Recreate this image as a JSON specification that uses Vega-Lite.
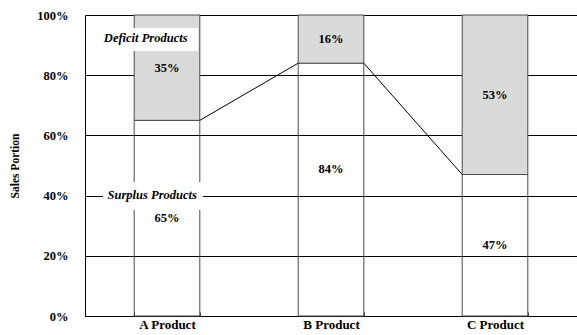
{
  "$schema": "https://vega.github.io/schema/vega-lite/v6.json",
  "width": 492,
  "height": 301,
  "autosize": "none",
  "padding": {"left": 85, "top": 15, "right": 0, "bottom": 19},
  "background": "white",
  "config": {"view": {"stroke": null}, "font": "Liberation Serif"},
  "resolve": {"scale": {"x": "independent"}},
  "layer": [
    {
      "data": {"values": [
        {"product": "A Product", "part": "Surplus", "value": 65, "ord": 1},
        {"product": "A Product", "part": "Deficit", "value": 35, "ord": 2},
        {"product": "B Product", "part": "Surplus", "value": 84, "ord": 1},
        {"product": "B Product", "part": "Deficit", "value": 16, "ord": 2},
        {"product": "C Product", "part": "Surplus", "value": 47, "ord": 1},
        {"product": "C Product", "part": "Deficit", "value": 53, "ord": 2}
      ]},
      "layer": [
        {
          "mark": {"type": "bar", "stroke": "#4a4a4a", "strokeWidth": 1},
          "encoding": {
            "x": {
              "field": "product", "type": "nominal",
              "scale": {"paddingInner": 0.6, "paddingOuter": 0.3},
              "axis": {
                "title": null, "labelAngle": 0, "labelFont": "Liberation Serif",
                "labelFontWeight": "bold", "labelFontSize": 13, "labelColor": "black",
                "labelPadding": 6, "tickBand": "extent", "tickSize": -4, "tickColor": "#333",
                "domainColor": "black", "grid": false
              }
            },
            "y": {
              "field": "value", "type": "quantitative", "stack": "zero",
              "scale": {"domain": [0, 100], "nice": false},
              "axis": {
                "title": "Sales Portion", "titleFont": "Liberation Serif", "titleFontWeight": "bold",
                "titleFontSize": 11.5, "titleColor": "black", "titlePadding": 16,
                "values": [0, 20, 40, 60, 80, 100], "labelExpr": "datum.value + '%'",
                "labelFont": "Liberation Serif", "labelFontWeight": "bold", "labelFontSize": 12.5,
                "labelColor": "black", "labelPadding": 17, "ticks": false,
                "domainColor": "black", "grid": true, "gridColor": "black", "gridOpacity": 1, "gridWidth": 1
              }
            },
            "fill": {
              "field": "part", "type": "nominal",
              "scale": {"domain": ["Surplus", "Deficit"], "range": ["transparent", "#dadada"]},
              "legend": null
            },
            "order": {"field": "ord"}
          }
        },
        {
          "data": {"values": [
            {"product": "A Product", "label": "35%", "pos": 82.5},
            {"product": "A Product", "label": "65%", "pos": 32.5},
            {"product": "B Product", "label": "16%", "pos": 92},
            {"product": "B Product", "label": "84%", "pos": 49},
            {"product": "C Product", "label": "53%", "pos": 73.5},
            {"product": "C Product", "label": "47%", "pos": 23.5}
          ]},
          "mark": {"type": "text", "font": "Liberation Serif", "fontWeight": "bold", "fontSize": 12.5, "color": "black", "baseline": "middle"},
          "encoding": {
            "x": {"field": "product", "type": "nominal"},
            "y": {"field": "pos", "type": "quantitative"},
            "text": {"field": "label"}
          }
        }
      ]
    },
    {
      "layer": [
        {
          "data": {"values": [
            {"xa": 0.7, "ya": 65, "xb": 1.3, "yb": 84},
            {"xa": 1.7, "ya": 84, "xb": 2.3, "yb": 47}
          ]},
          "mark": {"type": "rule", "color": "black", "strokeWidth": 1},
          "encoding": {
            "x": {"field": "xa", "type": "quantitative", "scale": {"domain": [0, 3], "nice": false}, "axis": null},
            "x2": {"field": "xb"},
            "y": {"field": "ya", "type": "quantitative"},
            "y2": {"field": "yb"}
          }
        },
        {
          "data": {"values": [
            {"name": "Deficit Products", "xa": 0.006, "xb": 0.69, "ya": 88, "yb": 95.7, "tx": 0.37, "ty": 92.4},
            {"name": "Surplus Products", "xa": 0.11, "xb": 0.72, "ya": 35.2, "yb": 44.5, "tx": 0.41, "ty": 40.2}
          ]},
          "layer": [
            {
              "mark": {"type": "rect", "fill": "white", "stroke": null},
              "encoding": {
                "x": {"field": "xa", "type": "quantitative", "scale": {"domain": [0, 3], "nice": false}, "axis": null},
                "x2": {"field": "xb"},
                "y": {"field": "ya", "type": "quantitative"},
                "y2": {"field": "yb"}
              }
            },
            {
              "mark": {"type": "text", "font": "Liberation Serif", "fontWeight": "bold", "fontStyle": "italic", "fontSize": 12.5, "color": "black", "baseline": "middle"},
              "encoding": {
                "x": {"field": "tx", "type": "quantitative", "scale": {"domain": [0, 3], "nice": false}, "axis": null},
                "y": {"field": "ty", "type": "quantitative"},
                "text": {"field": "name"}
              }
            }
          ]
        }
      ]
    }
  ]
}
